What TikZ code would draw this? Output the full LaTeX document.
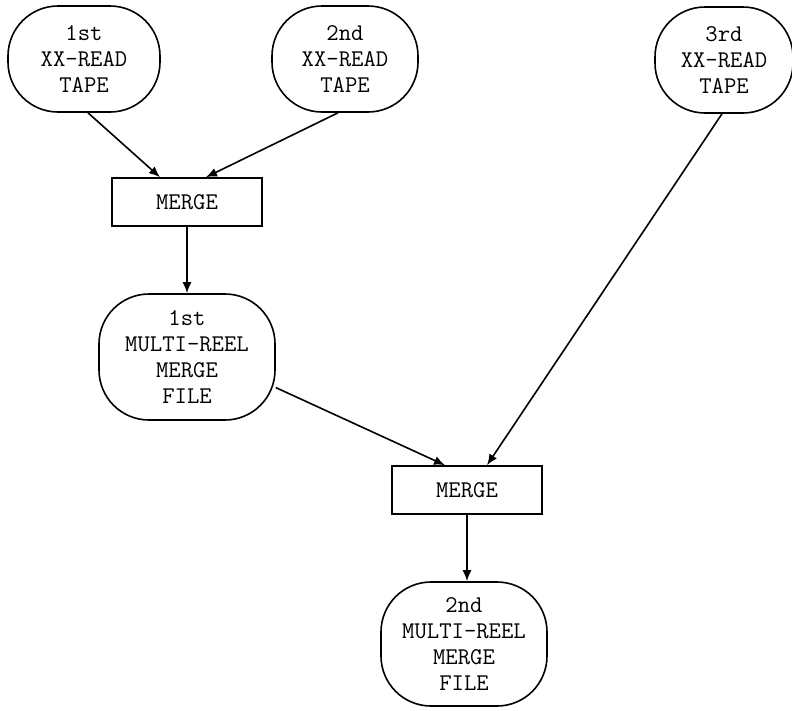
\documentclass[tikz,border=0pt]{standalone}
\usepackage{tikz}
\usetikzlibrary{arrows.meta,positioning,calc}

\begin{document}
\begin{tikzpicture}[x=1pt,y=-1pt,
  every node/.style={font=\fontsize{24}{26}\selectfont\ttfamily,align=center,inner sep=0pt},
  reel/.style={draw,line width=1.6pt,rounded corners=50pt},
  mergebox/.style={draw,line width=1.6pt,minimum width=150pt,minimum height=48pt},
  flow/.style={line width=1.6pt,-{Latex[length=11pt,width=9pt]}}]
 \useasboundingbox (0,0) rectangle (792,710);
 % input tapes
 \node[reel,minimum width=152pt,minimum height=106pt] (tapeA) at (84,59) {1st\\XX-READ\\TAPE};
 \node[reel,minimum width=146pt,minimum height=106pt] (tapeB) at (345,59) {2nd\\XX-READ\\TAPE};
 \node[reel,minimum width=138pt,minimum height=106pt] (tapeC) at (724,60) {3rd\\XX-READ\\TAPE};
 % first pass
 \node[mergebox] (mergeA) at (187,202) {MERGE};
 \node[reel,minimum width=176pt,minimum height=126pt] (fileA) at (187,357) {1st\\MULTI-REEL\\MERGE\\FILE};
 % second pass
 \node[mergebox] (mergeB) at (467,490) {MERGE};
 \node[reel,minimum width=166pt,minimum height=124pt] (fileB) at (464,644) {2nd\\MULTI-REEL\\MERGE\\FILE};
 \draw[flow] ([xshift=4pt]tapeA.south) -- ([xshift=-27pt]mergeA.north);
 \draw[flow] ([xshift=-7pt]tapeB.south) -- ([xshift=19pt]mergeA.north);
 \draw[flow] (mergeA.south) -- (fileA.north);
 \draw[flow] (fileA.-19) -- ([xshift=-22pt]mergeB.north);
 \draw[flow] ([xshift=-2pt]tapeC.south) -- ([xshift=20pt]mergeB.north);
 \draw[flow] (mergeB.south) -- (mergeB.south |- fileB.north);
\end{tikzpicture}
\end{document}
